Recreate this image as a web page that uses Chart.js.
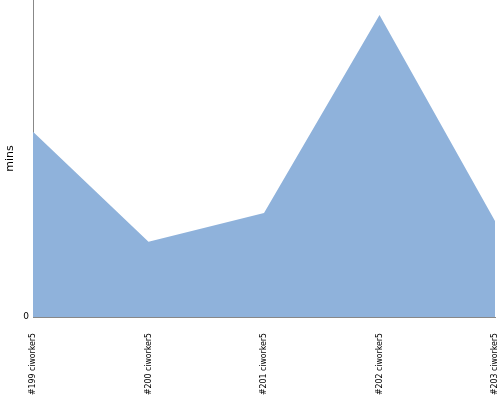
<!DOCTYPE html>
<html>

<head>
	<title>Build times</title>
	<meta charset="UTF-8">
	<script src="https://cdn.jsdelivr.net/npm/chart.js@4.4.1/dist/chart.umd.min.js"></script>
	<style>
		body { margin: 0; background: #fff; }
		#wrap { width: 500px; height: 400px; }
	</style>
</head>

<body>
	<div id="wrap">
		<canvas id="buildChart" width="500" height="400"></canvas>
	</div>

	<script>
		var labels = ["#199 ciworker5", "#200 ciworker5", "#201 ciworker5", "#202 ciworker5", "#203 ciworker5"];
		var mins = [5.84, 2.37, 3.28, 9.53, 3.03];
		var yTicks = [0];

		// drop the label overhang padding so the plot runs to the edges
		function noPad(s) {
			s.paddingTop = 0; s.paddingBottom = 0;
			s.paddingLeft = 0; s.paddingRight = 0;
		}

		new Chart(document.getElementById("buildChart"), {
			type: "line",
			data: {
				labels: labels,
				datasets: [{
					label: "mins",
					data: mins,
					fill: "origin",
					backgroundColor: "#8fb2db",
					borderWidth: 0,
					borderColor: "#8fb2db",
					pointRadius: 0,
					tension: 0
				}]
			},
			options: {
				responsive: false,
				animation: false,
				layout: { padding: { top: 0, right: 5, left: 0, bottom: 0 } },
				plugins: { legend: { display: false }, tooltip: { enabled: false } },
				scales: {
					x: {
						offset: false,
						grid: { display: false, drawTicks: false },
						border: { color: "#888", width: 1 },
						ticks: {
							minRotation: 90, maxRotation: 90, autoSkip: false,
							color: "#000", padding: 16,
							font: { family: "DejaVu Sans Condensed", size: 8.7 }
						},
						afterFit: function (s) { s.height = 83; noPad(s); }
					},
					y: {
						min: 0, max: 10,
						grid: { display: false, drawTicks: true, tickLength: 4, tickColor: "#888" },
						border: { color: "#888", width: 1 },
						afterBuildTicks: function (s) { s.ticks = yTicks.map(function (v) { return { value: v }; }); },
						ticks: { color: "#000", padding: 0, font: { family: "DejaVu Sans", size: 9 } },
						title: { display: true, text: "mins", color: "#000", padding: { top: 4, bottom: 0 }, font: { family: "DejaVu Sans", size: 11 } },
						afterFit: function (s) { s.width = 33; noPad(s); }
					}
				}
			}
		});
	</script>

</body>

</html>
